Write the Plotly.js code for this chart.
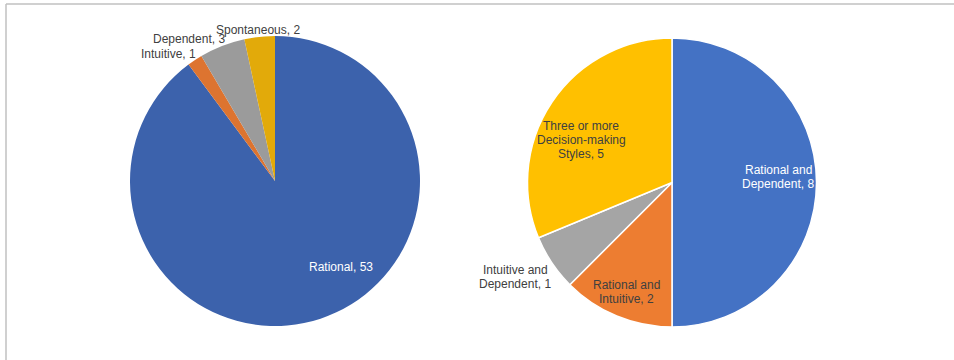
<!DOCTYPE html>
<html>
<head>
<meta charset="utf-8">
<script src="https://cdn.plot.ly/plotly-3.0.1.min.js"></script>
<style>html,body{margin:0;padding:0;background:#fff}#chart{width:954px;height:360px}</style>
</head>
<body>
<div id="chart"></div>
<script>
// Left pie: single decision-making styles
const leftLabels = ["Rational", "Intuitive", "Dependent", "Spontaneous"];
const leftValues = [53, 1, 3, 2];
const leftColors = ["#3C62AC", "#DD7430", "#9B9B9B", "#E2AA0A"];

// Right pie: combined decision-making styles
const rightLabels = ["Rational and<br>Dependent", "Rational and<br>Intuitive", "Intuitive and<br>Dependent", "Three or more<br>Decision-making<br>Styles"];
const rightValues = [8, 2, 1, 5];
const rightColors = ["#4472C4", "#ED7D31", "#A5A5A5", "#FFC000"];

const W = 954, H = 360;
function px(x){ return x / W; }
function py(y){ return 1 - y / H; }

// label positions (pixels) and colours — style only
const leftLabelPos = [[341, 267, "#ffffff"], [168, 54, "#404040"], [189, 39, "#404040"], [258, 30, "#404040"]];
const rightLabelPos = [[778, 177, "#ffffff"], [626, 292, "#404040"], [515, 277, "#404040"], [581, 140, "#404040"]];
const LINE = 13.5;

const traces = [
  {
    type: "pie", labels: leftLabels, values: leftValues, sort: false,
    direction: "clockwise", rotation: 0, textinfo: "none", hoverinfo: "label+value",
    marker: {colors: leftColors, line: {color: "#ffffff", width: 0}},
    domain: {x: [px(130), px(420)], y: [py(326), py(36)]}, showlegend: false
  },
  {
    type: "pie", labels: rightLabels, values: rightValues, sort: false,
    direction: "clockwise", rotation: 0, textinfo: "none", hoverinfo: "label+value",
    marker: {colors: rightColors, line: {color: "#ffffff", width: 1.5}},
    domain: {x: [px(527.5), px(816.5)], y: [py(327.5), py(37.5)]}, showlegend: false
  }
];

const annotations = [];
function addLabel(text, pos) {
  const lines = text.split("<br>");
  const n = lines.length;
  lines.forEach((ln, k) => {
    const yy = pos[1] + (k - (n - 1) / 2) * LINE;
    annotations.push({xref: "paper", yref: "paper", x: px(pos[0]), y: py(yy), xanchor: "center", yanchor: "middle",
      text: ln, showarrow: false, font: {family: "Liberation Sans, Arial, sans-serif", size: 12, color: pos[2]}});
  });
}
leftLabels.forEach((l, i) => addLabel(l + ", " + leftValues[i], leftLabelPos[i]));
rightLabels.forEach((l, i) => addLabel(l + ", " + rightValues[i], rightLabelPos[i]));

const layout = {
  width: W, height: H, margin: {l: 0, r: 0, t: 0, b: 0},
  paper_bgcolor: "#ffffff", plot_bgcolor: "#ffffff",
  showlegend: false, annotations: annotations,
  shapes: [
    {type: "line", xref: "paper", yref: "paper", x0: px(6), x1: 1, y0: py(4), y1: py(4), line: {color: "#c0c0c0", width: 1.5}},
    {type: "line", xref: "paper", yref: "paper", x0: px(6), x1: px(6), y0: py(4), y1: 0, line: {color: "#c0c0c0", width: 1.5}}
  ]
};

Plotly.newPlot("chart", traces, layout, {displayModeBar: false, staticPlot: true});
</script>
</body>
</html>
